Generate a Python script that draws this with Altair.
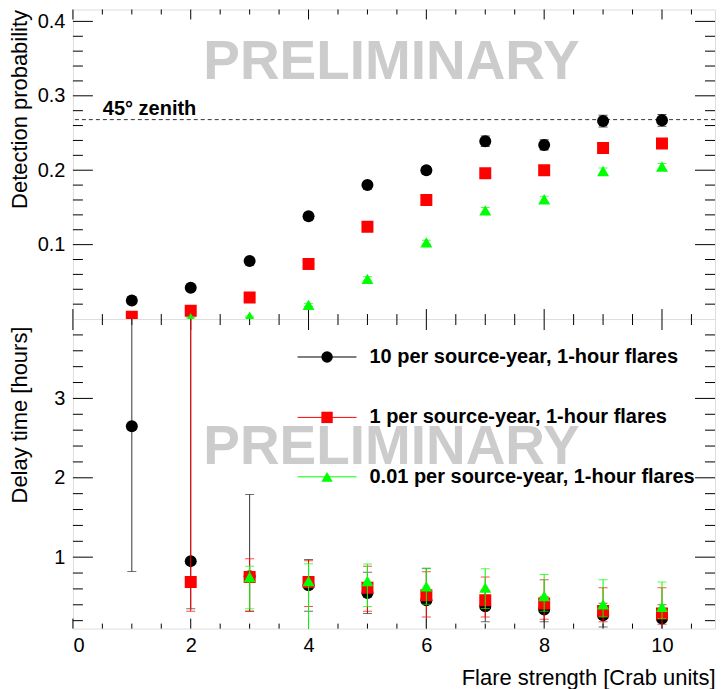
import altair as alt
import pandas as pd
import numpy as np

# ---------------- data ----------------
flare = [1, 2, 3, 4, 5, 6, 7, 8, 9, 10]
series = ["10 per source-year, 1-hour flares",
          "1 per source-year, 1-hour flares",
          "0.01 per source-year, 1-hour flares"]
colors = ["#000000", "#ff0000", "#00ff00"]
shapes = ["circle", "square", "triangle-up"]

# detection probability (top panel)
prob_10 = [0.025, 0.042, 0.078, 0.138, 0.180, 0.200, 0.239, 0.234, 0.266, 0.267]
prob_10_err = [0.003, 0.003, 0.004, 0.005, 0.005, 0.005, 0.007, 0.007, 0.008, 0.008]
prob_1 = [0.003, 0.011, 0.029, 0.074, 0.124, 0.160, 0.196, 0.200, 0.230, 0.236]
prob_1_err = [0.002, 0.002, 0.003, 0.004, 0.005, 0.005, 0.005, 0.005, 0.006, 0.006]
prob_001 = [None, 0.001, 0.003, 0.019, 0.054, 0.103, 0.146, 0.161, 0.199, 0.205]
prob_001_err = [None, 0.001, 0.001, 0.002, 0.003, 0.003, 0.004, 0.004, 0.004, 0.004]

# delay time (bottom panel): value, lower edge, upper edge
delay_10 = [2.65, 0.95, 0.76, 0.645, 0.548, 0.457, 0.38, 0.34, 0.268, 0.227]
delay_10_lo = [0.82, 0.35, 0.32, 0.32, 0.29, 0.05, 0.185, 0.185, 0.12, 0.08]
delay_10_hi = [4.48, 4.3, 1.79, 0.97, 0.81, 0.86, 0.58, 0.50, 0.42, 0.40]
delay_1 = [None, 0.686, 0.749, 0.686, 0.616, 0.52, 0.457, 0.415, 0.322, 0.29]
delay_1_lo = [None, 0.32, 0.32, 0.38, 0.32, 0.247, 0.247, 0.218, 0.185, 0.155]
delay_1_hi = [None, 4.5, 0.98, 0.955, 0.887, 0.817, 0.749, 0.716, 0.616, 0.616]
delay_001 = [None, None, 0.75, 0.70, 0.70, 0.632, 0.616, 0.51, 0.406, 0.373]
delay_001_lo = [None, None, 0.35, 0.0, 0.38, 0.406, 0.353, 0.319, 0.247, 0.227]
delay_001_hi = [None, None, 0.887, 0.917, 0.915, 0.854, 0.854, 0.783, 0.716, 0.686]

zenith_limit = 0.268
zenith_label = "45\u00b0 zenith"
watermark = "PRELIMINARY"

x_major = [0, 2, 4, 6, 8, 10]
x_minor = [v for v in np.arange(0.5, 10.9, 0.5).round(1).tolist() if v not in x_major]
top_y_major = [0.1, 0.2, 0.3, 0.4]
top_y_minor = [v for v in np.arange(0.02, 0.415, 0.02).round(2).tolist()
               if round(v, 2) not in top_y_major]
bot_y_major = [1, 2, 3]
bot_y_minor = [v for v in np.arange(0.2, 4.0, 0.2).round(1).tolist() if v not in bot_y_major]

# ---------------- layout constants ----------------
W = 643
H_TOP = 310
H_BOT = 310
FONT = "Liberation Sans"

x_scale = alt.Scale(domain=[0, 10.9], nice=False, zero=False, padding=0)
top_scale = alt.Scale(domain=[0, 0.416], nice=False, zero=False, padding=0)
bot_scale = alt.Scale(domain=[0.1, 4.0], nice=False, zero=False, padding=0)

x_top = alt.X("x:Q", scale=x_scale, axis=None)
x_bot = alt.X("x:Q", scale=x_scale, axis=alt.Axis(
    values=x_major, format="d", ticks=False, domain=False, grid=False,
    labelFont=FONT, labelFontSize=20, labelColor="black", labelPadding=7,
    title="Flare strength [Crab units]", titleFont=FONT, titleFontSize=22,
    titleFontWeight="normal", titleColor="black", titleAnchor="end", titleAlign="right",
    titleX=W, titleY=56, titleBaseline="alphabetic"))

y_top_axis = alt.Axis(
    values=top_y_major, format=".1f", ticks=False, domain=False, grid=False,
    labelFont=FONT, labelFontSize=20, labelColor="black", labelPadding=8,
    title="Detection probability", titleFont=FONT, titleFontSize=22,
    titleFontWeight="normal", titleColor="black", titleAngle=270, titleAlign="right",
    titleAnchor="end", titleX=-41, titleY=0, titleBaseline="bottom")
y_bot_axis = alt.Axis(
    values=bot_y_major, format="d", ticks=False, domain=False, grid=False,
    labelFont=FONT, labelFontSize=20, labelColor="black", labelPadding=8,
    title="Delay time [hours]", titleFont=FONT, titleFontSize=22,
    titleFontWeight="normal", titleColor="black", titleAngle=270, titleAlign="right",
    titleAnchor="end", titleX=-41, titleY=7, titleBaseline="bottom")


def tick_layers(xenc, ymaj, ymin, yscale, yaxis, height, top_len=(10, 5), bot_len=(10, 5)):
    layers = []
    for vals, ln in ((ymaj, 20), (ymin, 10)):
        d = pd.DataFrame({"v": vals})
        layers.append(alt.Chart(d).mark_rule(color="black", strokeWidth=1).encode(
            y=alt.Y("v:Q", scale=yscale, axis=yaxis), x=alt.value(0), x2=alt.value(ln)))
        layers.append(alt.Chart(d).mark_rule(color="black", strokeWidth=1).encode(
            y=alt.Y("v:Q", scale=yscale, axis=yaxis), x=alt.value(W), x2=alt.value(W - ln)))
    for vals, lt, lb in ((x_major, top_len[0], bot_len[0]), (x_minor, top_len[1], bot_len[1])):
        d = pd.DataFrame({"x": vals})
        layers.append(alt.Chart(d).mark_rule(color="black", strokeWidth=1).encode(
            x=xenc, y=alt.value(0), y2=alt.value(lt)))
        layers.append(alt.Chart(d).mark_rule(color="black", strokeWidth=1).encode(
            x=xenc, y=alt.value(height), y2=alt.value(height - lb)))
    return layers


def series_layers(vals, lo, hi, color, shape, xenc, yscale, yaxis, bar_color=None):
    d = pd.DataFrame({"x": flare, "y": vals, "lo": lo, "hi": hi}).dropna()
    bc = bar_color or color
    bars = alt.Chart(d).mark_rule(color=bc, strokeWidth=1, clip=True).encode(
        x=xenc, y=alt.Y("lo:Q", scale=yscale, axis=yaxis), y2="hi:Q")
    cap_lo = alt.Chart(d).mark_tick(color=bc, orient="horizontal", size=9, thickness=1, clip=True).encode(
        x=xenc, y=alt.Y("lo:Q", scale=yscale, axis=yaxis))
    cap_hi = alt.Chart(d).mark_tick(color=bc, orient="horizontal", size=9, thickness=1, clip=True).encode(
        x=xenc, y=alt.Y("hi:Q", scale=yscale, axis=yaxis))
    pts = alt.Chart(d).mark_point(shape=shape, filled=True, size=144, color=color,
                                  opacity=1, clip=True).encode(
        x=xenc, y=alt.Y("y:Q", scale=yscale, axis=yaxis))
    return [bars, cap_lo, cap_hi, pts]


def mk_err(vals, err):
    lo = [None if v is None else v - e for v, e in zip(vals, err)]
    hi = [None if v is None else v + e for v, e in zip(vals, err)]
    return lo, hi


# ---------------- top panel ----------------
wm_top = alt.Chart(pd.DataFrame({"t": [watermark]})).mark_text(
    font=FONT, fontSize=55, fontWeight="bold", color="#cccccc", align="center",
    baseline="alphabetic").encode(text="t:N", x=alt.value(319), y=alt.value(70))

zen = pd.DataFrame({"z": [zenith_limit], "label": [zenith_label]})
zen_line = alt.Chart(zen).mark_rule(color="#333333", strokeWidth=1, strokeDash=[4, 3]).encode(
    y=alt.Y("z:Q", scale=top_scale, axis=y_top_axis))
zen_text = alt.Chart(zen).mark_text(font=FONT, fontSize=20, fontWeight="bold", color="black",
                                    align="left", baseline="alphabetic", dy=-5).encode(
    y=alt.Y("z:Q", scale=top_scale, axis=y_top_axis), x=alt.value(30), text="label:N")

top_layers = [wm_top, zen_line, zen_text]
top_layers += tick_layers(x_top, top_y_major, top_y_minor, top_scale, y_top_axis, H_TOP)
for vals, err, c, s in ((prob_10, prob_10_err, colors[0], shapes[0]),
                        (prob_1, prob_1_err, colors[1], shapes[1]),
                        (prob_001, prob_001_err, colors[2], shapes[2])):
    lo, hi = mk_err(vals, err)
    top_layers += series_layers(vals, lo, hi, c, s, x_top, top_scale, y_top_axis)

top = alt.layer(*top_layers).properties(width=W, height=H_TOP)

# ---------------- bottom panel ----------------
wm_bot = alt.Chart(pd.DataFrame({"t": [watermark]})).mark_text(
    font=FONT, fontSize=55, fontWeight="bold", color="#cccccc", align="center",
    baseline="alphabetic").encode(text="t:N", x=alt.value(319), y=alt.value(145))

bot_layers = [wm_bot]
bot_layers += tick_layers(x_bot, bot_y_major, bot_y_minor, bot_scale, y_bot_axis, H_BOT,
                          top_len=(11, 6), bot_len=(10, 5))
for vals, lo, hi, c, s, bc in ((delay_10, delay_10_lo, delay_10_hi, colors[0], shapes[0], "#333333"),
                               (delay_1, delay_1_lo, delay_1_hi, colors[1], shapes[1], None),
                               (delay_001, delay_001_lo, delay_001_hi, colors[2], shapes[2], None)):
    bot_layers += series_layers(vals, lo, hi, c, s, x_bot, bot_scale, y_bot_axis, bar_color=bc)

# legend (line + marker + label for each series)
LEG_X0, LEG_X1, LEG_XM, LEG_XT = 225, 284, 254.5, 297
LEG_ROW = [38, 98.5, 158]
for i, name in enumerate(series):
    ld = pd.DataFrame({"label": [name]})
    yc = LEG_ROW[i]
    bot_layers.append(alt.Chart(ld).mark_rule(color=colors[i], strokeWidth=1).encode(
        x=alt.value(LEG_X0), x2=alt.value(LEG_X1), y=alt.value(yc)))
    bot_layers.append(alt.Chart(ld).mark_point(shape=shapes[i], filled=True, size=130,
                                               color=colors[i], opacity=1).encode(
        x=alt.value(LEG_XM), y=alt.value(yc)))
    bot_layers.append(alt.Chart(ld).mark_text(font=FONT, fontSize=20, fontWeight="bold",
                                              color="black", align="left", baseline="middle").encode(
        x=alt.value(LEG_XT), y=alt.value(yc), text="label:N"))

bottom = alt.layer(*bot_layers).properties(width=W, height=H_BOT)

chart = alt.vconcat(top, bottom, spacing=0, bounds="flush").properties(
    padding={"left": 0, "top": 0, "right": 0, "bottom": 0}
).configure_view(stroke="black", strokeWidth=1).configure(font=FONT, background="white")

chart.save("out.html", embed_options={"renderer": "svg", "actions": False})
